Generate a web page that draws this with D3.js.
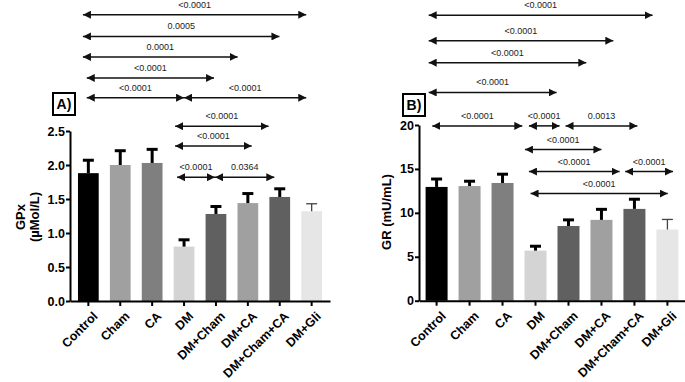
<!DOCTYPE html>
<html>
<head>
<meta charset="utf-8">
<script src="https://cdn.jsdelivr.net/npm/d3@7"></script>
<style>
  body { margin: 0; background: #fff; }
  svg { font-family: "Liberation Sans", Arial, sans-serif; }
</style>
</head>
<body>
<svg id="chart" width="685" height="382"></svg>
<script>
// groups on the x axis
var categories = ["Control", "Cham", "CA", "DM", "DM+Cham", "DM+CA", "DM+Cham+CA", "DM+Gli"];

// panel A: GPx (µMol/L)
var gpxMeans = [1.88, 2.00, 2.03, 0.80, 1.28, 1.44, 1.53, 1.32];
var gpxErrors = [0.19, 0.21, 0.20, 0.10, 0.11, 0.14, 0.12, 0.11];
var gpxTicks = [0.0, 0.5, 1.0, 1.5, 2.0, 2.5];

// panel B: GR (mU/mL)
var grMeans = [12.95, 13.05, 13.4, 5.7, 8.5, 9.2, 10.45, 8.1];
var grErrors = [0.9, 0.55, 1.0, 0.5, 0.7, 1.2, 1.1, 1.15];
var grTicks = [0, 5, 10, 15, 20];

// comparisons: start / end as position on the group index, level in axis units
var gpxComparisons = [
  { from: -0.17, to: 6.83, level: 4.21, label: "<0.0001" },
  { from: -0.17, to: 5.99, level: 3.89, label: "0.0005" },
  { from: -0.17, to: 4.68, level: 3.59, label: "0.0001" },
  { from: -0.05, to: 3.94, level: 3.28, label: "<0.0001" },
  { from: -0.05, to: 3.00, level: 2.99, label: "<0.0001" },
  { from: 3.00, to: 6.83, level: 2.99, label: "<0.0001" },
  { from: 2.72, to: 5.65, level: 2.57, label: "<0.0001" },
  { from: 2.72, to: 5.12, level: 2.28, label: "<0.0001" },
  { from: 2.78, to: 3.97, level: 1.82, label: "<0.0001" },
  { from: 3.97, to: 5.83, level: 1.82, label: "0.0364" }
];
var grComparisons = [
  { from: -0.24, to: 6.55, level: 32.5, label: "<0.0001" },
  { from: -0.24, to: 5.36, level: 29.6, label: "<0.0001" },
  { from: -0.24, to: 4.54, level: 27.1, label: "<0.0001" },
  { from: -0.24, to: 3.64, level: 23.7, label: "<0.0001" },
  { from: -0.13, to: 2.60, level: 19.9, label: "<0.0001" },
  { from: 2.80, to: 3.73, level: 19.9, label: "<0.0001" },
  { from: 3.91, to: 6.09, level: 19.9, label: "0.0013" },
  { from: 2.68, to: 5.00, level: 17.2, label: "<0.0001" },
  { from: 2.80, to: 5.55, level: 14.7, label: "<0.0001" },
  { from: 5.72, to: 7.17, level: 14.7, label: "<0.0001" },
  { from: 2.85, to: 7.01, level: 12.2, label: "<0.0001" }
];

var barColors = ["#000000", "#a0a0a0", "#7f7f7f", "#d4d4d4", "#606060", "#a0a0a0", "#606060", "#e6e6e6"];

var svg = d3.select("#chart");

// arrowhead marker
var defs = svg.append("defs");
defs.append("marker")
  .attr("id", "arrow")
  .attr("viewBox", "0 0 10 10")
  .attr("refX", 10).attr("refY", 5)
  .attr("markerWidth", 8).attr("markerHeight", 8)
  .attr("markerUnits", "userSpaceOnUse")
  .attr("orient", "auto-start-reverse")
  .append("path")
  .attr("d", "M0,0 L10,5 L0,10 Z")
  .attr("fill", "#111");

function drawPanel(opt) {
  var g = svg.append("g");

  var x = d3.scaleBand()
    .domain(categories)
    .range([opt.left, opt.right])
    .paddingInner(opt.padInner)
    .paddingOuter(opt.padOuter);

  var y = d3.scaleLinear()
    .domain([0, opt.ticks[opt.ticks.length - 1]])
    .range([opt.bottom, opt.top]);

  // index -> bar centre, used for the comparison arrows
  var xi = d3.scaleLinear()
    .domain([0, categories.length - 1])
    .range([x(categories[0]) + x.bandwidth() / 2, x(categories[categories.length - 1]) + x.bandwidth() / 2]);

  // bars
  g.selectAll("rect.bar")
    .data(categories)
    .enter()
    .append("rect")
    .attr("class", "bar")
    .attr("x", d => x(d))
    .attr("y", (d, i) => y(opt.means[i]))
    .attr("width", x.bandwidth())
    .attr("height", (d, i) => y(0) - y(opt.means[i]))
    .attr("fill", (d, i) => barColors[i]);

  // error bars (upper only)
  var err = g.selectAll("g.err")
    .data(categories)
    .enter()
    .append("g")
    .attr("class", "err")
    .attr("stroke", (d, i) => i === categories.length - 1 ? "#444" : "#000")
    .attr("stroke-width", (d, i) => i === categories.length - 1 ? 1.3 : 3);
  err.append("line")
    .attr("x1", d => x(d) + x.bandwidth() / 2)
    .attr("x2", d => x(d) + x.bandwidth() / 2)
    .attr("y1", (d, i) => y(opt.means[i]))
    .attr("y2", (d, i) => y(opt.means[i] + opt.errors[i]));
  err.append("line")
    .attr("x1", d => x(d) + x.bandwidth() / 2 - 5.5)
    .attr("x2", d => x(d) + x.bandwidth() / 2 + 5.5)
    .attr("y1", (d, i) => y(opt.means[i] + opt.errors[i]))
    .attr("y2", (d, i) => y(opt.means[i] + opt.errors[i]));

  // y axis
  var yAxis = g.append("g")
    .attr("transform", "translate(" + opt.left + ",0)")
    .call(d3.axisLeft(y).tickValues(opt.ticks).tickFormat(opt.fmt).tickSize(4).tickSizeOuter(0));
  yAxis.select(".domain").attr("stroke-width", 2);
  yAxis.selectAll(".tick line").attr("stroke-width", 2);
  yAxis.selectAll(".tick text")
    .attr("font-size", 12.5).attr("font-weight", "bold").attr("fill", "#000")
    .attr("x", -5);

  // x axis
  var xAxis = g.append("g")
    .attr("transform", "translate(0," + opt.bottom + ")")
    .call(d3.axisBottom(x).tickSize(5).tickSizeOuter(0).tickFormat(""));
  xAxis.select(".domain").attr("stroke-width", 2);
  xAxis.selectAll(".tick line").attr("stroke-width", 2);

  g.selectAll("text.xlab")
    .data(categories)
    .enter()
    .append("text")
    .attr("class", "xlab")
    .attr("transform", d => "translate(" + (x(d) + x.bandwidth() / 2 + 10) + "," + (opt.bottom + 16) + ") rotate(-45)")
    .attr("text-anchor", "end")
    .attr("font-size", 12.5)
    .attr("font-weight", "bold")
    .text(d => d);

  // y axis title
  var yt = g.append("text")
    .attr("transform", "translate(" + opt.titleX + "," + opt.titleY + ") rotate(-90)")
    .attr("text-anchor", "middle")
    .attr("font-size", 13)
    .attr("font-weight", "bold");
  opt.title.forEach(function (line, i) {
    yt.append("tspan")
      .attr("x", 0)
      .attr("dy", i === 0 ? 0 : "1.05em")
      .text(line);
  });

  // panel letter box
  g.append("rect")
    .attr("x", opt.boxX).attr("y", opt.boxY)
    .attr("width", 22).attr("height", 22)
    .attr("fill", "none").attr("stroke", "#000").attr("stroke-width", 2);
  g.append("text")
    .attr("x", opt.boxX + 11).attr("y", opt.boxY + 16)
    .attr("text-anchor", "middle")
    .attr("font-size", 14).attr("font-weight", "bold")
    .text(opt.letter);

  // comparison arrows
  var cmp = g.selectAll("g.cmp")
    .data(opt.comparisons)
    .enter()
    .append("g")
    .attr("class", "cmp");
  cmp.append("line")
    .attr("x1", d => xi(d.from))
    .attr("x2", d => xi(d.to))
    .attr("y1", d => y(d.level))
    .attr("y2", d => y(d.level))
    .attr("stroke", "#111")
    .attr("stroke-width", 1.5)
    .attr("marker-start", "url(#arrow)")
    .attr("marker-end", "url(#arrow)");
  cmp.append("text")
    .attr("x", d => (xi(d.from) + xi(d.to)) / 2)
    .attr("y", d => y(d.level) - 7)
    .attr("text-anchor", "middle")
    .attr("font-size", 9)
    .attr("fill", "#222")
    .text(d => d.label);
}

drawPanel({
  means: gpxMeans, errors: gpxErrors, ticks: gpxTicks, fmt: d3.format(".1f"),
  comparisons: gpxComparisons,
  left: 70, right: 330, padInner: 0.35, padOuter: 0.25,
  top: 131, bottom: 301,
  title: ["GPx", "(µMol/L)"], titleX: 25, titleY: 217,
  letter: "A)", boxX: 53, boxY: 93
});

drawPanel({
  means: grMeans, errors: grErrors, ticks: grTicks, fmt: d3.format("d"),
  comparisons: grComparisons,
  left: 419, right: 685, padInner: 0.333, padOuter: 0.2,
  top: 125, bottom: 300.7,
  title: ["GR (mU/mL)"], titleX: 391, titleY: 212,
  letter: "B)", boxX: 403, boxY: 94
});
</script>
</body>
</html>
